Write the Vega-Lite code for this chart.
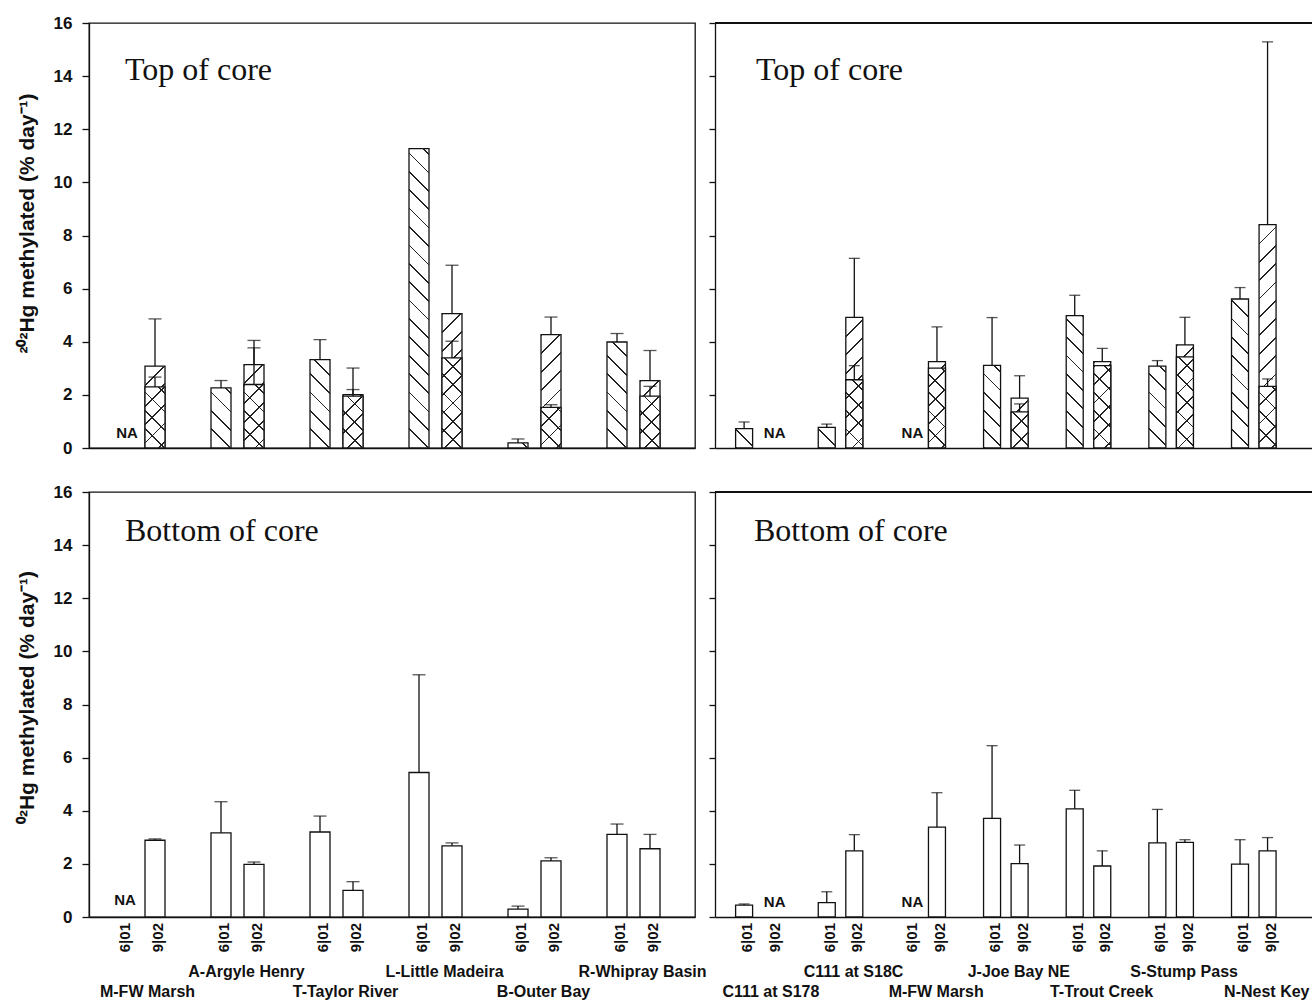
{
  "$schema": "https://vega.github.io/schema/vega-lite/v6.json",
  "background": "white",
  "padding": {"left": 15, "top": 13, "right": 0, "bottom": 0},
  "params": [
    {"name": "hs", "value": [
      {"offset":0,"color":"#222"},{"offset":0.004,"color":"#222"},{"offset":0.004,"color":"#0000"},{"offset":0.04167,"color":"#0000"},
      {"offset":0.04167,"color":"#222"},{"offset":0.04567,"color":"#222"},{"offset":0.04567,"color":"#0000"},{"offset":0.08333,"color":"#0000"},
      {"offset":0.08333,"color":"#222"},{"offset":0.08733,"color":"#222"},{"offset":0.08733,"color":"#0000"},{"offset":0.125,"color":"#0000"},
      {"offset":0.125,"color":"#222"},{"offset":0.129,"color":"#222"},{"offset":0.129,"color":"#0000"},{"offset":0.16667,"color":"#0000"},
      {"offset":0.16667,"color":"#222"},{"offset":0.17067,"color":"#222"},{"offset":0.17067,"color":"#0000"},{"offset":0.20833,"color":"#0000"},
      {"offset":0.20833,"color":"#222"},{"offset":0.21233,"color":"#222"},{"offset":0.21233,"color":"#0000"},{"offset":0.25,"color":"#0000"},
      {"offset":0.25,"color":"#222"},{"offset":0.254,"color":"#222"},{"offset":0.254,"color":"#0000"},{"offset":0.29167,"color":"#0000"},
      {"offset":0.29167,"color":"#222"},{"offset":0.29567,"color":"#222"},{"offset":0.29567,"color":"#0000"},{"offset":0.33333,"color":"#0000"},
      {"offset":0.33333,"color":"#222"},{"offset":0.33733,"color":"#222"},{"offset":0.33733,"color":"#0000"},{"offset":0.375,"color":"#0000"},
      {"offset":0.375,"color":"#222"},{"offset":0.379,"color":"#222"},{"offset":0.379,"color":"#0000"},{"offset":0.41667,"color":"#0000"},
      {"offset":0.41667,"color":"#222"},{"offset":0.42067,"color":"#222"},{"offset":0.42067,"color":"#0000"},{"offset":0.45833,"color":"#0000"},
      {"offset":0.45833,"color":"#222"},{"offset":0.46233,"color":"#222"},{"offset":0.46233,"color":"#0000"},{"offset":0.5,"color":"#0000"},
      {"offset":0.5,"color":"#222"},{"offset":0.504,"color":"#222"},{"offset":0.504,"color":"#0000"},{"offset":0.54167,"color":"#0000"},
      {"offset":0.54167,"color":"#222"},{"offset":0.54567,"color":"#222"},{"offset":0.54567,"color":"#0000"},{"offset":0.58333,"color":"#0000"},
      {"offset":0.58333,"color":"#222"},{"offset":0.58733,"color":"#222"},{"offset":0.58733,"color":"#0000"},{"offset":0.625,"color":"#0000"},
      {"offset":0.625,"color":"#222"},{"offset":0.629,"color":"#222"},{"offset":0.629,"color":"#0000"},{"offset":0.66667,"color":"#0000"},
      {"offset":0.66667,"color":"#222"},{"offset":0.67067,"color":"#222"},{"offset":0.67067,"color":"#0000"},{"offset":0.70833,"color":"#0000"},
      {"offset":0.70833,"color":"#222"},{"offset":0.71233,"color":"#222"},{"offset":0.71233,"color":"#0000"},{"offset":0.75,"color":"#0000"},
      {"offset":0.75,"color":"#222"},{"offset":0.754,"color":"#222"},{"offset":0.754,"color":"#0000"},{"offset":0.79167,"color":"#0000"},
      {"offset":0.79167,"color":"#222"},{"offset":0.79567,"color":"#222"},{"offset":0.79567,"color":"#0000"},{"offset":0.83333,"color":"#0000"},
      {"offset":0.83333,"color":"#222"},{"offset":0.83733,"color":"#222"},{"offset":0.83733,"color":"#0000"},{"offset":0.875,"color":"#0000"},
      {"offset":0.875,"color":"#222"},{"offset":0.879,"color":"#222"},{"offset":0.879,"color":"#0000"},{"offset":0.91667,"color":"#0000"},
      {"offset":0.91667,"color":"#222"},{"offset":0.92067,"color":"#222"},{"offset":0.92067,"color":"#0000"},{"offset":0.95833,"color":"#0000"},
      {"offset":0.95833,"color":"#222"},{"offset":0.96233,"color":"#222"},{"offset":0.96233,"color":"#0000"},{"offset":1,"color":"#0000"}
    ]}
  ],
  "datasets": {
    "TL": [
      {"s":"a","site":"M-FW Marsh","period":"6|01","v":null,"u":null},
      {"s":"a","site":"M-FW Marsh","period":"9|02","v":3.08,"u":4.86},
      {"s":"b","site":"M-FW Marsh","period":"9|02","v":2.30,"u":2.67},
      {"s":"a","site":"A-Argyle Henry","period":"6|01","v":2.26,"u":2.54},
      {"s":"a","site":"A-Argyle Henry","period":"9|02","v":3.14,"u":4.05},
      {"s":"b","site":"A-Argyle Henry","period":"9|02","v":2.39,"u":3.77},
      {"s":"a","site":"T-Taylor River","period":"6|01","v":3.33,"u":4.08},
      {"s":"a","site":"T-Taylor River","period":"9|02","v":2.01,"u":3.01},
      {"s":"b","site":"T-Taylor River","period":"9|02","v":1.95,"u":2.20},
      {"s":"a","site":"L-Little Madeira","period":"6|01","v":11.27,"u":null},
      {"s":"a","site":"L-Little Madeira","period":"9|02","v":5.06,"u":6.88},
      {"s":"b","site":"L-Little Madeira","period":"9|02","v":3.39,"u":4.02},
      {"s":"a","site":"B-Outer Bay","period":"6|01","v":0.19,"u":0.34},
      {"s":"a","site":"B-Outer Bay","period":"9|02","v":4.27,"u":4.93},
      {"s":"b","site":"B-Outer Bay","period":"9|02","v":1.53,"u":1.63},
      {"s":"a","site":"R-Whipray Basin","period":"6|01","v":3.99,"u":4.31},
      {"s":"a","site":"R-Whipray Basin","period":"9|02","v":2.54,"u":3.67},
      {"s":"b","site":"R-Whipray Basin","period":"9|02","v":1.95,"u":2.32}
    ],
    "TR": [
      {"s":"a","site":"C111 at S178","period":"6|01","v":0.73,"u":0.98},
      {"s":"a","site":"C111 at S178","period":"9|02","v":null,"u":null},
      {"s":"a","site":"C111 at S18C","period":"6|01","v":0.78,"u":0.90},
      {"s":"a","site":"C111 at S18C","period":"9|02","v":4.92,"u":7.14},
      {"s":"b","site":"C111 at S18C","period":"9|02","v":2.57,"u":3.10},
      {"s":"a","site":"M-FW Marsh","period":"6|01","v":null,"u":null},
      {"s":"a","site":"M-FW Marsh","period":"9|02","v":3.25,"u":4.56},
      {"s":"b","site":"M-FW Marsh","period":"9|02","v":3.01,"u":null},
      {"s":"a","site":"J-Joe Bay NE","period":"6|01","v":3.11,"u":4.91},
      {"s":"a","site":"J-Joe Bay NE","period":"9|02","v":1.88,"u":2.72},
      {"s":"b","site":"J-Joe Bay NE","period":"9|02","v":1.36,"u":1.66},
      {"s":"a","site":"T-Trout Creek","period":"6|01","v":4.98,"u":5.75},
      {"s":"a","site":"T-Trout Creek","period":"9|02","v":3.25,"u":3.75},
      {"s":"b","site":"T-Trout Creek","period":"9|02","v":3.10,"u":null},
      {"s":"a","site":"S-Stump Pass","period":"6|01","v":3.08,"u":3.29},
      {"s":"a","site":"S-Stump Pass","period":"9|02","v":3.88,"u":4.92},
      {"s":"b","site":"S-Stump Pass","period":"9|02","v":3.43,"u":null},
      {"s":"a","site":"N-Nest Key","period":"6|01","v":5.61,"u":6.04},
      {"s":"a","site":"N-Nest Key","period":"9|02","v":8.41,"u":15.29},
      {"s":"b","site":"N-Nest Key","period":"9|02","v":2.32,"u":2.60}
    ],
    "BL": [
      {"s":"a","site":"M-FW Marsh","period":"6|01","v":null,"u":null},
      {"s":"a","site":"M-FW Marsh","period":"9|02","v":2.89,"u":2.94},
      {"s":"a","site":"A-Argyle Henry","period":"6|01","v":3.17,"u":4.34},
      {"s":"a","site":"A-Argyle Henry","period":"9|02","v":1.98,"u":2.07},
      {"s":"a","site":"T-Taylor River","period":"6|01","v":3.20,"u":3.80},
      {"s":"a","site":"T-Taylor River","period":"9|02","v":1.00,"u":1.33},
      {"s":"a","site":"L-Little Madeira","period":"6|01","v":5.44,"u":9.12},
      {"s":"a","site":"L-Little Madeira","period":"9|02","v":2.68,"u":2.79},
      {"s":"a","site":"B-Outer Bay","period":"6|01","v":0.30,"u":0.41},
      {"s":"a","site":"B-Outer Bay","period":"9|02","v":2.11,"u":2.23},
      {"s":"a","site":"R-Whipray Basin","period":"6|01","v":3.11,"u":3.50},
      {"s":"a","site":"R-Whipray Basin","period":"9|02","v":2.57,"u":3.11}
    ],
    "BR": [
      {"s":"a","site":"C111 at S178","period":"6|01","v":0.45,"u":0.49},
      {"s":"a","site":"C111 at S178","period":"9|02","v":null,"u":null},
      {"s":"a","site":"C111 at S18C","period":"6|01","v":0.54,"u":0.95},
      {"s":"a","site":"C111 at S18C","period":"9|02","v":2.49,"u":3.10},
      {"s":"a","site":"M-FW Marsh","period":"6|01","v":null,"u":null},
      {"s":"a","site":"M-FW Marsh","period":"9|02","v":3.38,"u":4.68},
      {"s":"a","site":"J-Joe Bay NE","period":"6|01","v":3.71,"u":6.45},
      {"s":"a","site":"J-Joe Bay NE","period":"9|02","v":2.01,"u":2.71},
      {"s":"a","site":"T-Trout Creek","period":"6|01","v":4.07,"u":4.77},
      {"s":"a","site":"T-Trout Creek","period":"9|02","v":1.92,"u":2.49},
      {"s":"a","site":"S-Stump Pass","period":"6|01","v":2.79,"u":4.05},
      {"s":"a","site":"S-Stump Pass","period":"9|02","v":2.81,"u":2.91},
      {"s":"a","site":"N-Nest Key","period":"6|01","v":1.99,"u":2.91},
      {"s":"a","site":"N-Nest Key","period":"9|02","v":2.49,"u":2.99}
    ]
  },
  "columns": 2,
  "bounds": "flush",
  "spacing": {"row": 44, "column": 20},
  "resolve": {"scale": {"x": "independent", "y": "independent", "xOffset": "independent"}},
  "concat": [
    {
      "width": 606, "height": 425,
      "data": {"name": "TL"},
      "view": {"stroke": "#111", "strokeWidth": 1.3},
      "title": {"text": "Top of core", "anchor": "start", "frame": "group", "offset": -98, "dx": 36, "font": "Liberation Serif", "fontSize": 32, "fontWeight": "normal", "color": "#111", "baseline": "alphabetic"},
      "encoding": {
        "x": {"field": "site", "type": "nominal", "sort": null,
              "scale": {"domain": ["M-FW Marsh","A-Argyle Henry","T-Taylor River","L-Little Madeira","B-Outer Bay","R-Whipray Basin"], "paddingInner": 0, "paddingOuter": 0.0606, "align": 0},
              "axis": {"title": null, "labels": false, "ticks": false, "domain": true, "domainWidth": 1.3, "domainColor": "#111"}},
        "xOffset": {"field": "period", "type": "nominal", "scale": {"domain": ["6|01","9|02"], "paddingInner": 0, "paddingOuter": 0.5}}
      },
      "layer": [
        {"transform": [{"filter": "datum.s=='a'"}], "mark": {"type": "bar", "width": 20, "fill": "white", "stroke": "#111", "strokeWidth": 1.3},
         "encoding": {"y": {"field": "v", "type": "quantitative", "scale": {"domain": [0,16], "nice": false},
           "axis": {"title": "²⁰²Hg methylated (% day⁻¹)", "values": [0,2,4,6,8,10,12,14,16], "tickSize": 7, "tickWidth": 1.3, "tickColor": "#111", "domainWidth": 1.3, "domainColor": "#111", "labelFont": "Liberation Sans", "labelFontWeight": "bold", "labelFontSize": 17, "labelColor": "#111", "labelPadding": 10, "labelFlush": false, "titleFont": "Liberation Sans", "titleFontWeight": "bold", "titleFontSize": 21, "titleColor": "#111", "titleX": -52, "titleY": 200, "grid": false}}}},
        {"transform": [{"filter": "datum.s=='a' && datum.period=='6|01' && datum.v != null"}], "mark": {"type": "bar", "width": 20, "fill": {"expr": "{gradient:'linear',x1:0,y1:1,x2:8824.6/(400+pow(datum.v*26.5625,2)),y2:1-11720.2*datum.v/(400+pow(datum.v*26.5625,2)),stops:hs}"}},
         "encoding": {"y": {"field": "v", "type": "quantitative", "scale": {"domain": [0,16], "nice": false}}}},
        {"transform": [{"filter": "datum.s=='a' && datum.period=='9|02' && datum.v != null"}], "mark": {"type": "bar", "width": 20, "fill": {"expr": "{gradient:'linear',x1:0,y1:0,x2:8824.6/(400+pow(datum.v*26.5625,2)),y2:11720.2*datum.v/(400+pow(datum.v*26.5625,2)),stops:hs}"}},
         "encoding": {"y": {"field": "v", "type": "quantitative", "scale": {"domain": [0,16], "nice": false}}}},
        {"transform": [{"filter": "datum.s=='a' && datum.u != null"}], "mark": {"type": "rule", "color": "#111", "strokeWidth": 1.3},
         "encoding": {"y": {"field": "v", "type": "quantitative", "scale": {"domain": [0,16], "nice": false}}, "y2": {"field": "u"}}},
        {"transform": [{"filter": "datum.s=='a' && datum.u != null"}], "mark": {"type": "tick", "color": "#111", "thickness": 1.3, "size": 13},
         "encoding": {"y": {"field": "u", "type": "quantitative", "scale": {"domain": [0,16], "nice": false}}}},
        {"transform": [{"filter": "datum.s=='b'"}], "mark": {"type": "bar", "width": 20, "fill": "white", "stroke": "#111", "strokeWidth": 1.3},
         "encoding": {"y": {"field": "v", "type": "quantitative", "scale": {"domain": [0,16], "nice": false}}}},
        {"transform": [{"filter": "datum.s=='b'"}], "mark": {"type": "bar", "width": 20, "fill": {"expr": "{gradient:'linear',x1:0,y1:1,x2:8824.6/(400+pow(datum.v*26.5625,2)),y2:1-11720.2*datum.v/(400+pow(datum.v*26.5625,2)),stops:hs}"}},
         "encoding": {"y": {"field": "v", "type": "quantitative", "scale": {"domain": [0,16], "nice": false}}}},
        {"transform": [{"filter": "datum.s=='b'"}], "mark": {"type": "bar", "width": 20, "fill": {"expr": "{gradient:'linear',x1:0,y1:0,x2:8824.6/(400+pow(datum.v*26.5625,2)),y2:11720.2*datum.v/(400+pow(datum.v*26.5625,2)),stops:hs}"}},
         "encoding": {"y": {"field": "v", "type": "quantitative", "scale": {"domain": [0,16], "nice": false}}}},
        {"transform": [{"filter": "datum.s=='b' && datum.u != null"}], "mark": {"type": "rule", "color": "#111", "strokeWidth": 1.3},
         "encoding": {"y": {"field": "v", "type": "quantitative", "scale": {"domain": [0,16], "nice": false}}, "y2": {"field": "u"}}},
        {"transform": [{"filter": "datum.s=='b' && datum.u != null"}], "mark": {"type": "tick", "color": "#111", "thickness": 1.3, "size": 13},
         "encoding": {"y": {"field": "u", "type": "quantitative", "scale": {"domain": [0,16], "nice": false}}}},
        {"transform": [{"filter": "datum.v == null"}], "mark": {"type": "text", "text": "NA", "font": "Liberation Sans", "fontWeight": "bold", "fontSize": 15, "color": "#111", "dx": 5, "dy": -15, "baseline": "middle"},
         "encoding": {"y": {"datum": 0, "type": "quantitative", "scale": {"domain": [0,16], "nice": false}}}}
      ]
    },
    {
      "width": 598, "height": 425,
      "data": {"name": "TR"},
      "title": {"text": "Top of core", "anchor": "start", "frame": "group", "offset": -90, "dx": 41, "font": "Liberation Serif", "fontSize": 32, "fontWeight": "normal", "color": "#111", "baseline": "alphabetic"},
      "encoding": {
        "x": {"field": "site", "type": "nominal", "sort": null,
              "scale": {"domain": ["C111 at S178","C111 at S18C","M-FW Marsh","J-Joe Bay NE","T-Trout Creek","S-Stump Pass","N-Nest Key"], "paddingInner": 0, "paddingOuter": 0.1176, "align": 0.08},
              "axis": {"title": null, "labels": false, "ticks": false, "domain": true, "domainWidth": 1.3, "domainColor": "#111"}},
        "xOffset": {"field": "period", "type": "nominal", "scale": {"domain": ["6|01","9|02"], "paddingInner": 0, "paddingOuter": 0.5}}
      },
      "layer": [
        {"transform": [{"filter": "datum.s=='a'"}], "mark": {"type": "bar", "width": 17, "fill": "white", "stroke": "#111", "strokeWidth": 1.3},
         "encoding": {"y": {"field": "v", "type": "quantitative", "scale": {"domain": [0,16], "nice": false},
           "axis": {"title": null, "labels": false, "values": [0,2,4,6,8,10,12,14,16], "tickSize": 6, "tickWidth": 1.3, "tickColor": "#111", "domainWidth": 1.3, "domainColor": "#111", "grid": false}}}},
        {"mark": {"type": "rule", "color": "#111", "strokeWidth": 1.3},
         "encoding": {"x": null, "xOffset": null, "y": {"datum": 16, "type": "quantitative", "scale": {"domain": [0,16], "nice": false}}}},
        {"transform": [{"filter": "datum.s=='a' && datum.period=='6|01' && datum.v != null"}], "mark": {"type": "bar", "width": 17, "fill": {"expr": "{gradient:'linear',x1:0,y1:1,x2:7500.9/(289+pow(datum.v*26.5625,2)),y2:1-11720.2*datum.v/(289+pow(datum.v*26.5625,2)),stops:hs}"}},
         "encoding": {"y": {"field": "v", "type": "quantitative", "scale": {"domain": [0,16], "nice": false}}}},
        {"transform": [{"filter": "datum.s=='a' && datum.period=='9|02' && datum.v != null"}], "mark": {"type": "bar", "width": 17, "fill": {"expr": "{gradient:'linear',x1:0,y1:0,x2:7500.9/(289+pow(datum.v*26.5625,2)),y2:11720.2*datum.v/(289+pow(datum.v*26.5625,2)),stops:hs}"}},
         "encoding": {"y": {"field": "v", "type": "quantitative", "scale": {"domain": [0,16], "nice": false}}}},
        {"transform": [{"filter": "datum.s=='a' && datum.u != null"}], "mark": {"type": "rule", "color": "#111", "strokeWidth": 1.3},
         "encoding": {"y": {"field": "v", "type": "quantitative", "scale": {"domain": [0,16], "nice": false}}, "y2": {"field": "u"}}},
        {"transform": [{"filter": "datum.s=='a' && datum.u != null"}], "mark": {"type": "tick", "color": "#111", "thickness": 1.3, "size": 11},
         "encoding": {"y": {"field": "u", "type": "quantitative", "scale": {"domain": [0,16], "nice": false}}}},
        {"transform": [{"filter": "datum.s=='b'"}], "mark": {"type": "bar", "width": 17, "fill": "white", "stroke": "#111", "strokeWidth": 1.3},
         "encoding": {"y": {"field": "v", "type": "quantitative", "scale": {"domain": [0,16], "nice": false}}}},
        {"transform": [{"filter": "datum.s=='b'"}], "mark": {"type": "bar", "width": 17, "fill": {"expr": "{gradient:'linear',x1:0,y1:1,x2:7500.9/(289+pow(datum.v*26.5625,2)),y2:1-11720.2*datum.v/(289+pow(datum.v*26.5625,2)),stops:hs}"}},
         "encoding": {"y": {"field": "v", "type": "quantitative", "scale": {"domain": [0,16], "nice": false}}}},
        {"transform": [{"filter": "datum.s=='b'"}], "mark": {"type": "bar", "width": 17, "fill": {"expr": "{gradient:'linear',x1:0,y1:0,x2:7500.9/(289+pow(datum.v*26.5625,2)),y2:11720.2*datum.v/(289+pow(datum.v*26.5625,2)),stops:hs}"}},
         "encoding": {"y": {"field": "v", "type": "quantitative", "scale": {"domain": [0,16], "nice": false}}}},
        {"transform": [{"filter": "datum.s=='b' && datum.u != null"}], "mark": {"type": "rule", "color": "#111", "strokeWidth": 1.3},
         "encoding": {"y": {"field": "v", "type": "quantitative", "scale": {"domain": [0,16], "nice": false}}, "y2": {"field": "u"}}},
        {"transform": [{"filter": "datum.s=='b' && datum.u != null"}], "mark": {"type": "tick", "color": "#111", "thickness": 1.3, "size": 11},
         "encoding": {"y": {"field": "u", "type": "quantitative", "scale": {"domain": [0,16], "nice": false}}}},
        {"transform": [{"filter": "datum.v == null"}], "mark": {"type": "text", "text": "NA", "font": "Liberation Sans", "fontWeight": "bold", "fontSize": 15, "color": "#111", "dx": 3, "dy": -15, "baseline": "middle"},
         "encoding": {"y": {"datum": 0, "type": "quantitative", "scale": {"domain": [0,16], "nice": false}}}}
      ]
    },
    {
      "width": 606, "height": 425,
      "data": {"name": "BL"},
      "view": {"stroke": "#111", "strokeWidth": 1.3},
      "title": {"text": "Bottom of core", "anchor": "start", "frame": "group", "offset": -90, "dx": 36, "font": "Liberation Serif", "fontSize": 32, "fontWeight": "normal", "color": "#111", "baseline": "alphabetic"},
      "encoding": {
        "x": {"field": "site", "type": "nominal", "sort": null,
              "scale": {"domain": ["M-FW Marsh","A-Argyle Henry","T-Taylor River","L-Little Madeira","B-Outer Bay","R-Whipray Basin"], "paddingInner": 0, "paddingOuter": 0.0606, "align": 0},
              "axis": {"title": null, "ticks": false, "domain": true, "domainWidth": 1.3, "domainColor": "#111", "labelFont": "Liberation Sans", "labelFontWeight": "bold", "labelFontSize": 16, "labelColor": "#111", "labelPadding": 46, "labelAngle": 0, "labelAlign": "center", "labelBaseline": "top", "labelLineHeight": 20, "labelOverlap": false, "labelOffset": 9, "labelLimit": 0,
                       "labelExpr": "indexof(['A-Argyle Henry','L-Little Madeira','R-Whipray Basin'], datum.value) >= 0 ? datum.value : [' ', datum.value]"}},
        "xOffset": {"field": "period", "type": "nominal", "scale": {"domain": ["6|01","9|02"], "paddingInner": 0, "paddingOuter": 0.5}}
      },
      "layer": [
        {"transform": [{"filter": "datum.s=='a'"}], "mark": {"type": "bar", "width": 20, "fill": "white", "stroke": "#111", "strokeWidth": 1.3},
         "encoding": {"y": {"field": "v", "type": "quantitative", "scale": {"domain": [0,16], "nice": false},
           "axis": {"title": "⁰²Hg methylated (% day⁻¹)", "values": [0,2,4,6,8,10,12,14,16], "tickSize": 7, "tickWidth": 1.3, "tickColor": "#111", "domainWidth": 1.3, "domainColor": "#111", "labelFont": "Liberation Sans", "labelFontWeight": "bold", "labelFontSize": 17, "labelColor": "#111", "labelPadding": 10, "labelFlush": false, "titleFont": "Liberation Sans", "titleFontWeight": "bold", "titleFontSize": 21, "titleColor": "#111", "titleX": -52, "titleY": 205, "grid": false}}}},
        {"transform": [{"filter": "datum.u != null"}], "mark": {"type": "rule", "color": "#111", "strokeWidth": 1.3},
         "encoding": {"y": {"field": "v", "type": "quantitative", "scale": {"domain": [0,16], "nice": false}}, "y2": {"field": "u"}}},
        {"transform": [{"filter": "datum.u != null"}], "mark": {"type": "tick", "color": "#111", "thickness": 1.3, "size": 13},
         "encoding": {"y": {"field": "u", "type": "quantitative", "scale": {"domain": [0,16], "nice": false}}}},
        {"transform": [{"filter": "datum.v == null"}], "mark": {"type": "text", "text": "NA", "font": "Liberation Sans", "fontWeight": "bold", "fontSize": 15, "color": "#111", "dx": 3, "dy": -17, "baseline": "middle"},
         "encoding": {"y": {"datum": 0, "type": "quantitative", "scale": {"domain": [0,16], "nice": false}}}},
        {"mark": {"type": "text", "angle": 270, "align": "right", "baseline": "middle", "dx": -6, "dy": 3, "font": "Liberation Sans", "fontWeight": "bold", "fontSize": 15, "color": "#111"},
         "encoding": {"text": {"field": "period"}, "y": {"datum": 0, "type": "quantitative", "scale": {"domain": [0,16], "nice": false}}}}
      ]
    },
    {
      "width": 598, "height": 425,
      "data": {"name": "BR"},
      "title": {"text": "Bottom of core", "anchor": "start", "frame": "group", "offset": -82, "dx": 39, "font": "Liberation Serif", "fontSize": 32, "fontWeight": "normal", "color": "#111", "baseline": "alphabetic"},
      "encoding": {
        "x": {"field": "site", "type": "nominal", "sort": null,
              "scale": {"domain": ["C111 at S178","C111 at S18C","M-FW Marsh","J-Joe Bay NE","T-Trout Creek","S-Stump Pass","N-Nest Key"], "paddingInner": 0, "paddingOuter": 0.1176, "align": 0.08},
              "axis": {"title": null, "ticks": false, "domain": true, "domainWidth": 1.3, "domainColor": "#111", "labelFont": "Liberation Sans", "labelFontWeight": "bold", "labelFontSize": 16, "labelColor": "#111", "labelPadding": 46, "labelAngle": 0, "labelAlign": "center", "labelBaseline": "top", "labelLineHeight": 20, "labelOverlap": false, "labelOffset": 13, "labelLimit": 0,
                       "labelExpr": "indexof(['C111 at S18C','J-Joe Bay NE','S-Stump Pass'], datum.value) >= 0 ? datum.value : [' ', datum.value]"}},
        "xOffset": {"field": "period", "type": "nominal", "scale": {"domain": ["6|01","9|02"], "paddingInner": 0, "paddingOuter": 0.5}}
      },
      "layer": [
        {"transform": [{"filter": "datum.s=='a'"}], "mark": {"type": "bar", "width": 17, "fill": "white", "stroke": "#111", "strokeWidth": 1.3},
         "encoding": {"y": {"field": "v", "type": "quantitative", "scale": {"domain": [0,16], "nice": false},
           "axis": {"title": null, "labels": false, "values": [0,2,4,6,8,10,12,14,16], "tickSize": 6, "tickWidth": 1.3, "tickColor": "#111", "domainWidth": 1.3, "domainColor": "#111", "grid": false}}}},
        {"mark": {"type": "rule", "color": "#111", "strokeWidth": 1.3},
         "encoding": {"x": null, "xOffset": null, "y": {"datum": 16, "type": "quantitative", "scale": {"domain": [0,16], "nice": false}}}},
        {"transform": [{"filter": "datum.u != null"}], "mark": {"type": "rule", "color": "#111", "strokeWidth": 1.3},
         "encoding": {"y": {"field": "v", "type": "quantitative", "scale": {"domain": [0,16], "nice": false}}, "y2": {"field": "u"}}},
        {"transform": [{"filter": "datum.u != null"}], "mark": {"type": "tick", "color": "#111", "thickness": 1.3, "size": 11},
         "encoding": {"y": {"field": "u", "type": "quantitative", "scale": {"domain": [0,16], "nice": false}}}},
        {"transform": [{"filter": "datum.v == null"}], "mark": {"type": "text", "text": "NA", "font": "Liberation Sans", "fontWeight": "bold", "fontSize": 15, "color": "#111", "dx": 3, "dy": -15, "baseline": "middle"},
         "encoding": {"y": {"datum": 0, "type": "quantitative", "scale": {"domain": [0,16], "nice": false}}}},
        {"mark": {"type": "text", "angle": 270, "align": "right", "baseline": "middle", "dx": -6, "dy": 3, "font": "Liberation Sans", "fontWeight": "bold", "fontSize": 15, "color": "#111"},
         "encoding": {"text": {"field": "period"}, "y": {"datum": 0, "type": "quantitative", "scale": {"domain": [0,16], "nice": false}}}}
      ]
    }
  ],
  "config": {
    "view": {"stroke": null},
    "font": "Liberation Sans",
    "axis": {"grid": false}
  }
}
